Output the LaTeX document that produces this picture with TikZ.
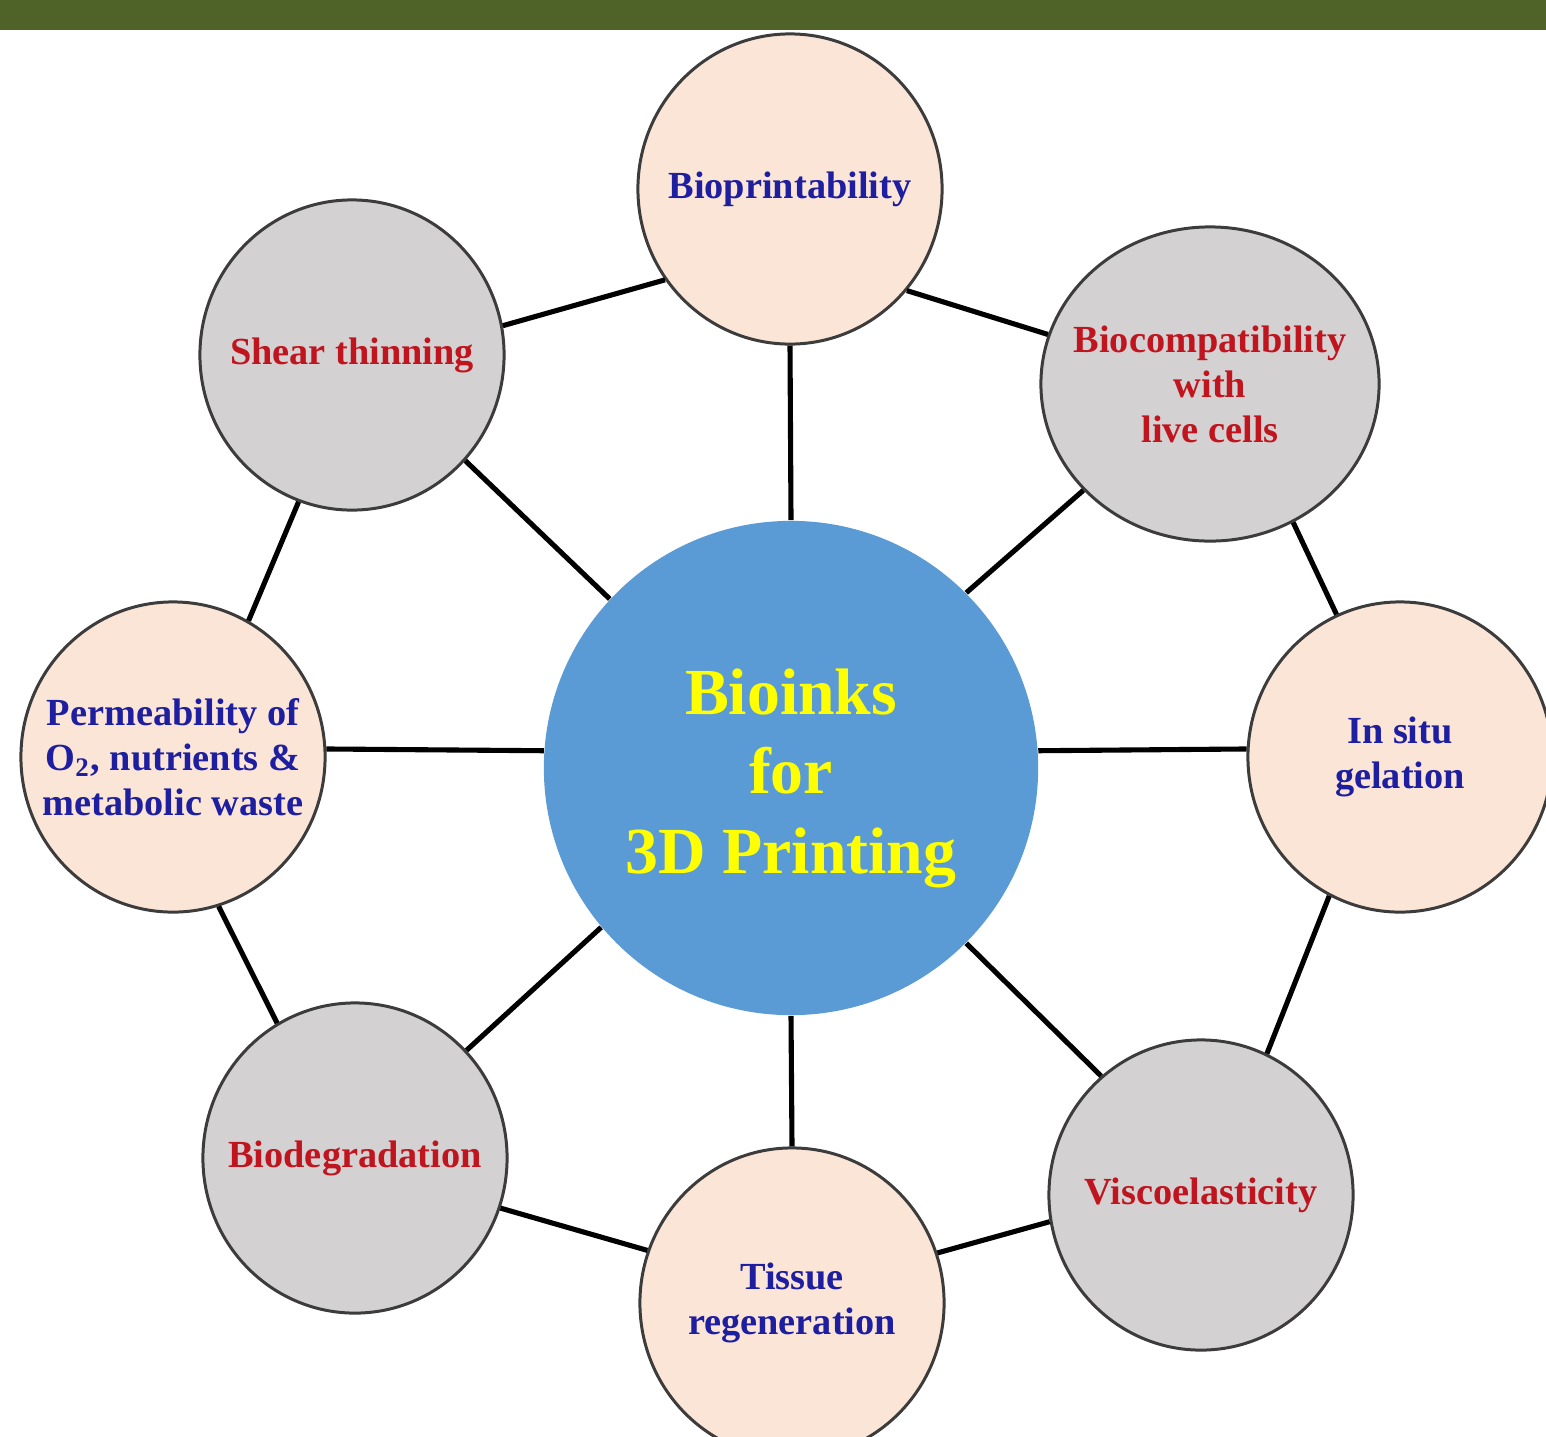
\documentclass[tikz,border=0pt]{standalone}
\usepackage{fontspec}
\setmainfont{Liberation Serif}
\usetikzlibrary{shapes.geometric}

\definecolor{barGreen}{HTML}{4F6228}
\definecolor{hubBlue}{HTML}{5B9BD5}
\definecolor{peach}{HTML}{FBE5D6}
\definecolor{ashGrey}{HTML}{D3D1D1}
\definecolor{rimGrey}{HTML}{3C3C3C}
\definecolor{inkBlue}{HTML}{1E1EA0}
\definecolor{inkRed}{HTML}{C0141E}
\definecolor{hubText}{HTML}{FFFF00}

\begin{document}
\begin{tikzpicture}[x=0.01cm, y=-0.01cm,
  bubble/.style={ellipse, draw=rimGrey, line width=0.85pt, inner sep=-1cm,
    minimum width=3.04cm, minimum height=3.1cm, align=center,
    font=\fontsize{10.9}{12.8}\selectfont\bfseries},
  warm/.style={bubble, fill=peach, text=inkBlue},
  cool/.style={bubble, fill=ashGrey, text=inkRed},
  hubdisc/.style={circle, fill=hubBlue, minimum size=4.94cm, inner sep=0pt},
  hubtxt/.style={align=center, text=hubText, inner sep=0pt,
    font=\fontsize{18.7}{22.6}\selectfont\bfseries},
  link/.style={line width=1.45pt, black}]

\useasboundingbox (0,0) rectangle (1546,1436);

% header band
\fill[barGreen] (0,0) rectangle (1546,30);

% central hub
\node[hubdisc] (hub) at (791,768) {};
\node[hubtxt] (hubtext) at (791,778) {Bioinks\\for\\3D Printing};

% surrounding properties
\node[warm] (bio) at (790,189) {Bioprintability};
\node[cool, minimum width=3.38cm, minimum height=3.14cm] (compat) at (1210,384)
  {Biocompatibility\\with\\live cells};
\node[warm] (gel) at (1400,757) {In situ\\gelation};
\node[cool] (visco) at (1201,1195) {Viscoelasticity};
\node[warm] (tissue) at (792,1303) {Tissue\\regeneration};
\node[cool] (degr) at (355,1158) {Biodegradation};
\node[warm] (perm) at (173,757)
  {Permeability of\\O\textsubscript{2}, nutrients \&\\metabolic waste};
\node[cool] (shear) at (352,355) {Shear thinning};

% spokes from the hub
\draw[link] (hub.90)  -- (bio.270);
\draw[link] (hub.45)  -- (compat.220);
\draw[link] (hub.4)   -- (gel.177);
\draw[link] (hub.315) -- (visco.130);
\draw[link] (hub.270) -- (tissue.90);
\draw[link] (hub.220) -- (degr.44);
\draw[link] (hub.176) -- (perm.3);
\draw[link] (hub.137) -- (shear.317);

% outer ring
\draw[link] (shear.11)   -- (bio.216);
\draw[link] (bio.319)    -- (compat.163);
\draw[link] (compat.301) -- (gel.114);
\draw[link] (gel.243)    -- (visco.65);
\draw[link] (visco.190)  -- (tissue.19);
\draw[link] (tissue.160) -- (degr.341);
\draw[link] (degr.120)   -- (perm.287);
\draw[link] (perm.61)    -- (shear.250);
\end{tikzpicture}
\end{document}
